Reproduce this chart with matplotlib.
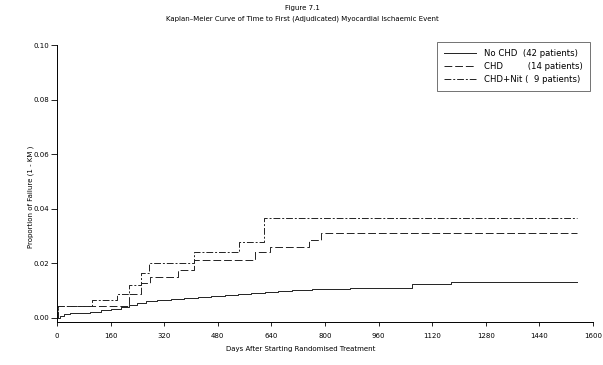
import matplotlib
matplotlib.use('Agg')
import matplotlib.pyplot as plt

# 数据 (从图中读取的阶梯曲线)
nochd_days = [0, 10, 20, 40, 70, 100, 130, 160, 190, 215, 240, 265, 300, 340, 380,
              420, 460, 500, 540, 580, 620, 660, 700, 760, 875, 1060, 1176, 1552]
nochd_fail = [0.0, 0.0006, 0.0012, 0.0016, 0.0018, 0.0022, 0.0027, 0.0033, 0.0039,
              0.0046, 0.0053, 0.0060, 0.0064, 0.0068, 0.0071, 0.0075, 0.0079, 0.0083,
              0.0087, 0.0091, 0.0094, 0.0097, 0.0100, 0.0104, 0.0110, 0.0122, 0.0132, 0.0132]

chd_days = [0, 4, 215, 250, 278, 360, 410, 590, 637, 752, 787, 1552]
chd_fail = [0.0, 0.0042, 0.0088, 0.0127, 0.0149, 0.0173, 0.0212, 0.0240, 0.0258,
            0.0285, 0.0309, 0.0309]

nit_days = [0, 4, 105, 180, 215, 250, 275, 408, 542, 617, 1552]
nit_fail = [0.0, 0.0042, 0.0064, 0.0088, 0.0120, 0.0163, 0.0200, 0.0240, 0.0278,
            0.0367, 0.0367]

labels = ['No CHD  (42 patients)', 'CHD         (14 patients)', 'CHD+Nit (  9 patients)']
xticks = [0, 160, 320, 480, 640, 800, 960, 1120, 1280, 1440, 1600]
yticks = [0.00, 0.02, 0.04, 0.06, 0.08, 0.10]

plt.rcParams['font.family'] = ['DejaVu Sans']

fig = plt.figure(figsize=(6.03, 3.65), dpi=100)
ax = fig.add_axes([0.0945, 0.118, 0.889, 0.758])

ax.step(nochd_days, nochd_fail, where='post', color='#222222', lw=0.7, label=labels[0])
ax.step(chd_days, chd_fail, where='post', color='#222222', lw=0.7,
        linestyle=(0, (8, 3)), label=labels[1])
ax.step(nit_days, nit_fail, where='post', color='#222222', lw=0.7,
        linestyle=(0, (7, 2, 2, 2)), label=labels[2])

ax.set_xlim(0, 1600)
ax.set_ylim(-0.0016, 0.10)
ax.set_xticks(xticks)
ax.set_yticks(yticks)
ax.set_yticklabels(['%.2f' % v for v in yticks])
ax.tick_params(axis='x', labelsize=5, length=3, width=0.6, pad=5)
ax.tick_params(axis='y', labelsize=5, length=4, width=0.6, pad=1.5)

for s in ['top', 'right']:
    ax.spines[s].set_visible(False)
for s in ['left', 'bottom']:
    ax.spines[s].set_linewidth(0.7)

leg = ax.legend(loc='upper left', bbox_to_anchor=(0.709, 1.012), fontsize=6.1,
                frameon=True, fancybox=False, handlelength=3.8, handletextpad=0.95,
                labelspacing=0.5, borderpad=0.8, borderaxespad=0)
leg.get_frame().set_edgecolor('#333333')
leg.get_frame().set_linewidth(0.6)

fig.text(0.502, 0.978, 'Figure 7.1', ha='center', va='center', fontsize=5)
fig.text(0.502, 0.949, 'Kaplan\u2013Meier Curve of Time to First (Adjudicated) Myocardial Ischaemic Event',
         ha='center', va='center', fontsize=5)
fig.text(0.499, 0.044, 'Days After Starting Randomised Treatment', ha='center', va='center', fontsize=5)
fig.text(0.051, 0.46, 'Proportion of Failure (1 - KM )', ha='center', va='center',
         rotation=90, fontsize=5)

plt.savefig('out.png', dpi=100)
